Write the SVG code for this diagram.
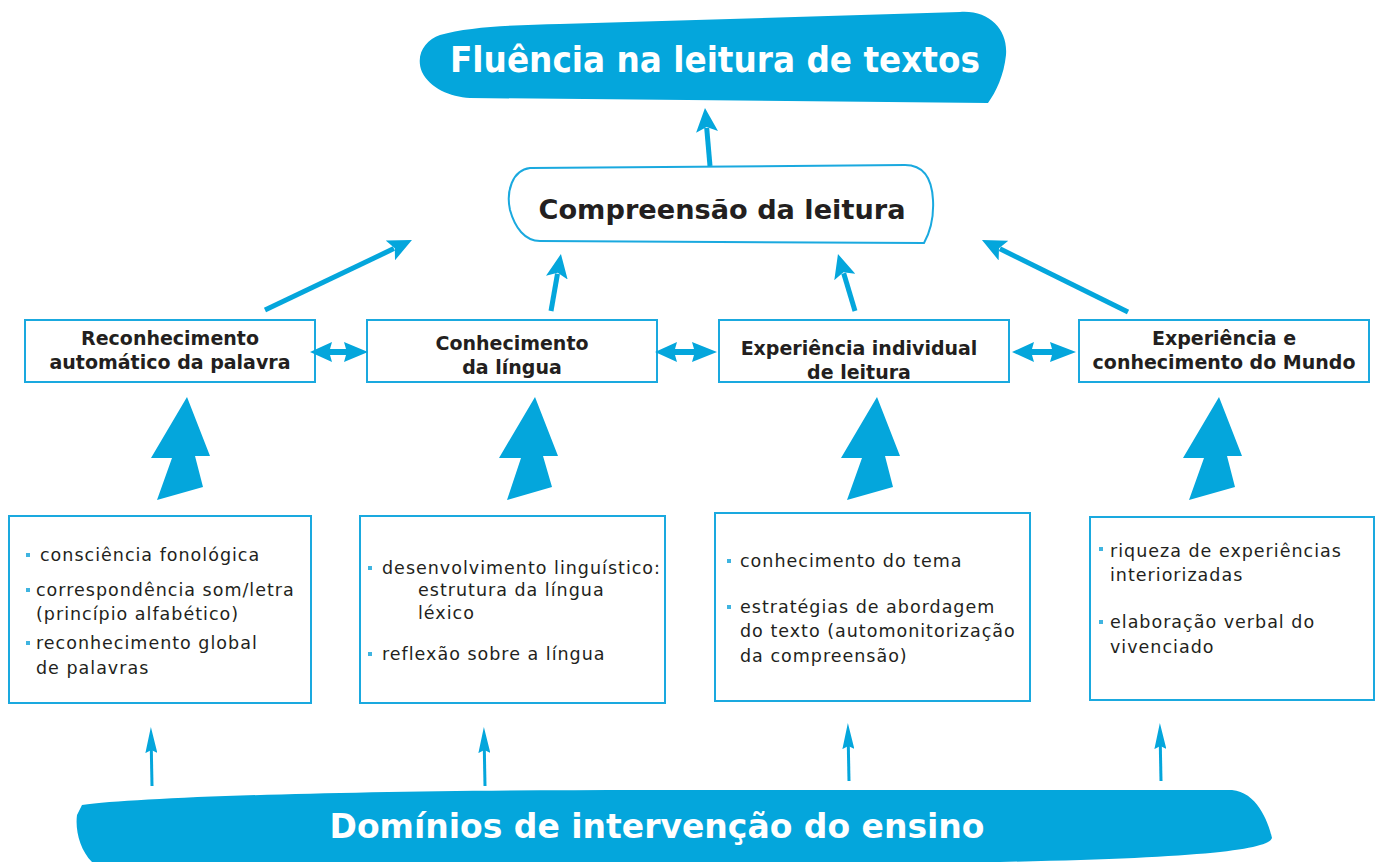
<svg xmlns="http://www.w3.org/2000/svg" width="1384" height="862" viewBox="0 0 1384 862">
<style>
.blob{fill:#04a6dc}
.box{fill:#fff;stroke:#1aa9df;stroke-width:2}
.ttl{font-family:"DejaVu Sans Condensed","DejaVu Sans",sans-serif;font-weight:bold;fill:#fff;text-anchor:middle}
.hd{font-family:"DejaVu Sans",sans-serif;font-weight:bold;font-size:19px;fill:#231f20;text-anchor:middle}
.tx{font-family:"DejaVu Sans",sans-serif;font-size:17.5px;letter-spacing:1px;fill:#231f20}
.ln{stroke:#04a6dc;fill:none}
.fa{fill:#04a6dc}
.bul{fill:#3fb4e0}
</style>
<defs>
<marker id="ah" markerUnits="userSpaceOnUse" markerWidth="26" markerHeight="22" refX="4" refY="11" orient="auto"><path d="M0,0 L24,11 L0,22 L5,11 z" fill="#04a6dc"/></marker>
<marker id="as" markerUnits="userSpaceOnUse" markerWidth="26" markerHeight="12" refX="4" refY="6" orient="auto"><path d="M0,0 L26,6 L0,12 L3,6 z" fill="#04a6dc"/></marker>
</defs>

<g id="fluencia">
<path class="blob" d="M440,35 C470,26 520,25 560,24 L960,12 C990,10 1008,30 1006,55 C1004,75 996,92 988,103 L470,98 C450,97 430,88 422,72 C415,55 425,40 440,35 Z"/>
<text class="ttl" x="715" y="72" font-size="36" textLength="530" lengthAdjust="spacingAndGlyphs">Fluência na leitura de textos</text>
</g>

<g id="compreensao">
<path d="M530,168 L905,165 C925,165 932,180 933,200 C934,218 930,232 924,243 L540,241 C525,241 515,228 510,210 C506,192 512,170 530,168 Z" fill="#fff" stroke="#1aa9df" stroke-width="2"/>
<text x="722" y="219" font-family="'DejaVu Sans Condensed','DejaVu Sans',sans-serif" font-weight="bold" font-size="27" fill="#231f20" text-anchor="middle" textLength="367" lengthAdjust="spacingAndGlyphs">Compreensão da leitura</text>
</g>

<g id="reconhecimento">
<rect class="box" x="25" y="320" width="290" height="62"/>
<text class="hd" x="170" y="345">Reconhecimento</text>
<text class="hd" x="170" y="369">automático da palavra</text>
</g>
<g id="conhecimento">
<rect class="box" x="367" y="320" width="290" height="62"/>
<text class="hd" x="512" y="350">Conhecimento</text>
<text class="hd" x="512" y="374">da língua</text>
</g>
<g id="experiencia-individual">
<rect class="box" x="719" y="320" width="290" height="62"/>
<text class="hd" x="859" y="355">Experiência individual</text>
<text class="hd" x="859" y="379">de leitura</text>
</g>
<g id="experiencia-mundo">
<rect class="box" x="1079" y="320" width="290" height="62"/>
<text class="hd" x="1224" y="345">Experiência e</text>
<text class="hd" x="1224" y="369">conhecimento do Mundo</text>
</g>

<g id="box-a">
<rect class="box" x="9" y="516" width="302" height="187"/>
<rect class="bul" x="26" y="553" width="4" height="4"/>
<text class="tx" x="40" y="561">consciência fonológica</text>
<rect class="bul" x="26" y="588" width="4" height="4"/>
<text class="tx" x="36" y="596">correspondência som/letra</text>
<text class="tx" x="36" y="620">(princípio alfabético)</text>
<rect class="bul" x="26" y="641" width="4" height="4"/>
<text class="tx" x="36" y="649">reconhecimento global</text>
<text class="tx" x="36" y="674">de palavras</text>
</g>
<g id="box-b">
<rect class="box" x="360" y="516" width="305" height="187"/>
<rect class="bul" x="368" y="566" width="4" height="4"/>
<text class="tx" x="382" y="574">desenvolvimento linguístico:</text>
<text class="tx" x="418" y="596">estrutura da língua</text>
<text class="tx" x="418" y="619">léxico</text>
<rect class="bul" x="368" y="652" width="4" height="4"/>
<text class="tx" x="382" y="660">reflexão sobre a língua</text>
</g>
<g id="box-c">
<rect class="box" x="715" y="513" width="315" height="188"/>
<rect class="bul" x="727" y="559" width="4" height="4"/>
<text class="tx" x="740" y="567">conhecimento do tema</text>
<rect class="bul" x="727" y="605" width="4" height="4"/>
<text class="tx" x="740" y="613">estratégias de abordagem</text>
<text class="tx" x="740" y="637">do texto (automonitorização</text>
<text class="tx" x="740" y="662">da compreensão)</text>
</g>
<g id="box-d">
<rect class="box" x="1090" y="517" width="284" height="183"/>
<rect class="bul" x="1099" y="547" width="4" height="4"/>
<text class="tx" x="1110" y="557">riqueza de experiências</text>
<text class="tx" x="1110" y="581">interiorizadas</text>
<rect class="bul" x="1099" y="620" width="4" height="4"/>
<text class="tx" x="1110" y="628">elaboração verbal do</text>
<text class="tx" x="1110" y="653">vivenciado</text>
</g>

<g id="dominios">
<path class="blob" d="M82,805 C150,796 400,789 700,790 L1232,790 C1256,792 1268,820 1272,838 C1268,850 1200,858 1000,862 L92,862 C80,850 75,830 77,815 Z"/>
<text class="ttl" x="657" y="838" font-size="34" textLength="655" lengthAdjust="spacingAndGlyphs">Domínios de intervenção do ensino</text>
</g>

<g id="connectors">
<line class="ln" stroke-width="5" x1="710" y1="166" x2="706.7" y2="127.9" marker-end="url(#ah)"/>
<line class="ln" stroke-width="5" x1="265" y1="310" x2="393.9" y2="248.6" marker-end="url(#ah)"/>
<line class="ln" stroke-width="5" x1="551" y1="311" x2="557.5" y2="273.7" marker-end="url(#ah)"/>
<line class="ln" stroke-width="5" x1="855" y1="311" x2="843.7" y2="273.2" marker-end="url(#ah)"/>
<line class="ln" stroke-width="5" x1="1128" y1="312" x2="999.9" y2="248.8" marker-end="url(#ah)"/>

<polygon class="fa" points="310,352 332,342 330,349 346,349 344,342 368,352 344,362 346,355 330,355 332,362"/>
<polygon class="fa" points="655,352 677,342 675,349 694,349 692,342 717,352 692,362 694,355 675,355 677,362"/>
<polygon class="fa" points="1012,352 1034,342 1032,349 1052,349 1050,342 1076,352 1050,362 1052,355 1032,355 1034,362"/>

<polygon class="fa" points="187,397 210,456 195,456 203,487 157,500 172,458 151,458"/>
<polygon class="fa" points="535,397 558,456 543,456 552,487 507,500 521,458 499,458"/>
<polygon class="fa" points="877,397 900,456 885,456 893,487 847,500 862,458 841,458"/>
<polygon class="fa" points="1219,397 1242,456 1227,456 1235,487 1189,500 1204,458 1183,458"/>

<line class="ln" stroke-width="3" x1="152" y1="786" x2="151.3" y2="749" marker-end="url(#as)"/>
<line class="ln" stroke-width="3" x1="485" y1="786" x2="484.3" y2="749" marker-end="url(#as)"/>
<line class="ln" stroke-width="3" x1="849" y1="781" x2="848.3" y2="745" marker-end="url(#as)"/>
<line class="ln" stroke-width="3" x1="1161" y1="781" x2="1160.3" y2="745" marker-end="url(#as)"/>
</g>
</svg>
